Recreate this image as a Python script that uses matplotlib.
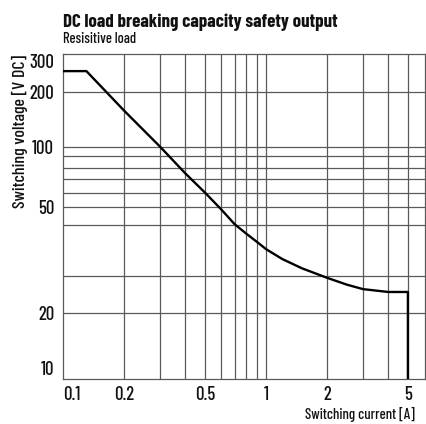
import numpy as np
import matplotlib
matplotlib.use("Agg")
import matplotlib.pyplot as plt

# ---- data ----
current_A = [0.1, 0.13, 0.2, 0.3, 0.4, 0.5, 0.6, 0.7, 0.8, 0.9, 1.0, 1.2, 1.5, 2.0, 2.5, 3.0, 4.0, 5.0, 5.0]
voltage_V = [250, 250, 157, 100, 75, 60, 48.6, 40.5, 38.1, 36.4, 34.9, 33.0, 31.3, 29.3, 27.2, 25.9, 25.1, 25.1, 10]

x_ticks = [0.1, 0.2, 0.5, 1, 2, 5]
x_ticklabels = ["0.1", "0.2", "0.5", "1", "2", "5"]
y_ticks = [10, 20, 50, 100, 200, 300]
y_ticklabels = ["10", "20", "50", "100", "200", "300"]
x_grid = [0.2, 0.3, 0.4, 0.5, 0.6, 0.7, 0.8, 0.9, 1, 2, 3, 4, 5]
y_grid = [20, 30, 40, 50, 60, 70, 80, 90, 100, 200]

title = "DC load breaking capacity safety output"
subtitle = "Resisitive load"
xlabel = "Switching current [A]"
ylabel = "Switching voltage [V DC]"

# ---- y-axis ruling of the original drawing (non-uniform log ruling) ----
_scale_vals = np.log10([10, 20, 30, 40, 50, 60, 70, 80, 90, 100, 200, 300])
_scale_pix = np.array([379.3, 312.7, 275.7, 225.3, 207, 192.7, 179, 168.3, 156, 146.7, 91.7, 54.3])
_scale_frac = (379.3 - _scale_pix) / 325.0

def _fwd(v):
    v = np.clip(np.asarray(v, dtype=float), 1e-6, None)
    return np.interp(np.log10(v), _scale_vals, _scale_frac)

def _inv(f):
    f = np.asarray(f, dtype=float)
    return 10 ** np.interp(f, _scale_frac, _scale_vals)

FONT = ["Barlow Condensed", "Roboto Condensed", "DejaVu Sans"]
plt.rcParams["font.family"] = FONT
REG = 500  # medium weight, closer to the original's regular strokes

W, H = 427, 424
fig = plt.figure(figsize=(W / 100, H / 100), dpi=100)
ax = fig.add_axes([63.3 / W, (H - 379.3) / H, (425 - 63.3) / W, 325 / H])

ax.set_xscale("log")
ax.set_yscale("function", functions=(_fwd, _inv))
ax.set_xlim(0.1, 6.07)
ax.set_ylim(10, 300)

gcol = "#5a5a5a"
for xv in x_grid:
    ax.axvline(xv, color=gcol, lw=0.9, zorder=1)
for yv in y_grid:
    ax.axhline(yv, color=gcol, lw=0.9, zorder=1)

ax.plot(current_A, voltage_V, color="black", lw=1.7, zorder=3, solid_joinstyle="round")

for s in ax.spines.values():
    s.set_color(gcol)
    s.set_linewidth(0.9)

ax.set_xticks(x_ticks)
ax.set_xticklabels(x_ticklabels, fontweight=REG)
ax.set_yticks(y_ticks)
ax.set_yticklabels(y_ticklabels, fontweight=REG)
ax.xaxis.set_minor_locator(matplotlib.ticker.NullLocator())
ax.yaxis.set_minor_locator(matplotlib.ticker.NullLocator())
ax.tick_params(axis="both", length=0, labelsize=13.5, colors="#111111")
ax.tick_params(axis="x", pad=5)
ax.tick_params(axis="y", pad=6.5)

xt = ax.xaxis.get_major_ticks()
xt[0].label1.set_horizontalalignment("left")
yt = ax.yaxis.get_major_ticks()
yt[0].label1.set_verticalalignment("bottom")
yt[-1].label1.set_verticalalignment("top")

t_title = fig.text(63 / W, 1 - 26.7 / H, title, fontsize=14, fontweight="bold", ha="left", va="baseline", color="#111111")
t_sub = fig.text(63 / W, 1 - 42.7 / H, subtitle, fontsize=10, fontweight=REG, ha="left", va="baseline", color="#111111")
t_yl = fig.text(19.5 / W, 1 - 131 / H, ylabel, fontsize=12, fontweight=REG, rotation=90, ha="center", va="center", color="#111111")
t_xl = fig.text(415 / W, 1 - 419 / H, xlabel, fontsize=12, fontweight=REG, ha="right", va="baseline", color="#111111")

# fit text lengths to the reference's measured extents
fig.canvas.draw()
r = fig.canvas.get_renderer()
for t, target, vertical, maxsize in [(t_title, 275, False, 16), (t_sub, 73, False, 11),
                                      (t_yl, 154, True, 13.5), (t_xl, 110, False, 13.5)]:
    bb = t.get_window_extent(r)
    cur = bb.height if vertical else bb.width
    t.set_fontsize(min(maxsize, t.get_fontsize() * target / cur))

fig.savefig("out.png", dpi=100)
